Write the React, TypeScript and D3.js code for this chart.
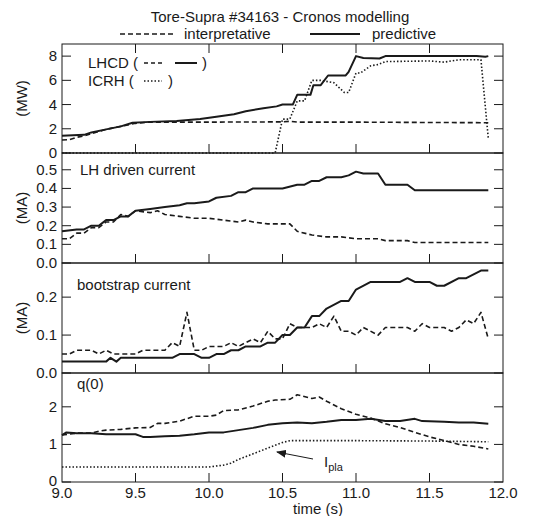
import React from "react";
import * as d3 from "d3";

const xTicks = [9.0, 9.5, 10.0, 10.5, 11.0, 11.5, 12.0];

// Panel 1 : power (MW)
const lhcdPredT = [9.0, 9.15, 9.2, 9.3, 9.4, 9.48, 9.6, 9.78, 9.94, 10.05, 10.17, 10.25, 10.37, 10.46, 10.5, 10.57, 10.6, 10.69, 10.71, 10.76, 10.81, 10.93, 10.95, 11.0, 11.05, 11.16, 11.2, 11.5, 11.82, 11.88, 11.9];
const lhcdPredV = [1.42, 1.5, 1.7, 1.95, 2.2, 2.5, 2.57, 2.65, 2.8, 3.0, 3.2, 3.45, 3.7, 3.85, 4.0, 4.0, 4.8, 4.8, 5.6, 5.6, 6.4, 6.4, 6.7, 8.0, 7.85, 7.8, 8.0, 8.0, 8.0, 7.95, 8.0];
const lhcdInterpT = [9.0, 9.05, 9.1, 9.15, 9.2, 9.3, 9.4, 9.5, 9.6, 10.0, 10.5, 10.55, 10.6, 11.0, 11.5, 11.9];
const lhcdInterpV = [1.07, 1.1, 1.3, 1.4, 1.6, 1.95, 2.2, 2.45, 2.55, 2.55, 2.57, 2.62, 2.55, 2.55, 2.52, 2.5];
const icrhT = [9.0, 10.45, 10.5, 10.55, 10.6, 10.65, 10.7, 10.76, 10.85, 10.92, 10.95, 11.0, 11.03, 11.1, 11.15, 11.2, 11.5, 11.6, 11.7, 11.85, 11.9];
const icrhV = [0, 0, 2.8, 2.8, 4.3, 4.3, 6.0, 6.0, 5.8, 5.0, 5.0, 6.6, 6.6, 7.2, 7.3, 7.55, 7.6, 7.5, 7.7, 7.7, 1.2];

// Panel 2 : LH driven current (MA)
const lhPredT = [9.0, 9.1, 9.15, 9.2, 9.25, 9.3, 9.35, 9.4, 9.45, 9.5, 9.6, 9.7, 9.8, 9.85, 9.9, 10.0, 10.05, 10.15, 10.2, 10.25, 10.3, 10.5, 10.6, 10.65, 10.7, 10.75, 10.8, 10.9, 10.95, 11.0, 11.05, 11.15, 11.2, 11.35, 11.4, 11.9];
const lhPredV = [0.17, 0.18, 0.18, 0.2, 0.2, 0.23, 0.23, 0.25, 0.25, 0.28, 0.29, 0.3, 0.31, 0.32, 0.32, 0.33, 0.35, 0.36, 0.38, 0.38, 0.4, 0.4, 0.42, 0.42, 0.44, 0.44, 0.46, 0.46, 0.47, 0.49, 0.48, 0.48, 0.42, 0.42, 0.39, 0.39];
const lhInterpT = [9.0, 9.05, 9.1, 9.15, 9.2, 9.25, 9.3, 9.35, 9.4, 9.45, 9.5, 9.6, 9.65, 9.7, 9.8, 9.9, 10.0, 10.1, 10.2, 10.25, 10.3, 10.4, 10.55, 10.6, 10.7, 10.8, 10.9, 11.0, 11.15, 11.2, 11.35, 11.4, 11.9];
const lhInterpV = [0.13, 0.13, 0.16, 0.16, 0.19, 0.19, 0.22, 0.22, 0.26, 0.25, 0.28, 0.27, 0.28, 0.26, 0.25, 0.24, 0.24, 0.23, 0.22, 0.23, 0.22, 0.21, 0.21, 0.17, 0.15, 0.14, 0.14, 0.13, 0.13, 0.12, 0.12, 0.11, 0.11];

// Panel 3 : bootstrap current (MA)
const bsPredT = [9.0, 9.3, 9.33, 9.37, 9.4, 9.75, 9.8, 9.9, 9.95, 10.0, 10.05, 10.1, 10.15, 10.2, 10.25, 10.35, 10.4, 10.45, 10.5, 10.55, 10.6, 10.65, 10.7, 10.75, 10.8, 10.9, 10.95, 11.0, 11.1, 11.3, 11.35, 11.4, 11.5, 11.55, 11.6, 11.7, 11.75, 11.85, 11.9];
const bsPredV = [0.03, 0.03, 0.04, 0.03, 0.04, 0.04, 0.05, 0.05, 0.04, 0.04, 0.05, 0.05, 0.06, 0.06, 0.07, 0.07, 0.08, 0.08, 0.1, 0.1, 0.12, 0.12, 0.15, 0.15, 0.17, 0.19, 0.19, 0.22, 0.24, 0.24, 0.25, 0.24, 0.24, 0.23, 0.23, 0.25, 0.25, 0.27, 0.27];
const bsInterpT = [9.0, 9.05, 9.1, 9.2, 9.25, 9.3, 9.35, 9.5, 9.55, 9.7, 9.75, 9.8, 9.85, 9.9, 9.95, 10.0, 10.1, 10.15, 10.2, 10.3, 10.35, 10.4, 10.45, 10.5, 10.55, 10.6, 10.7, 10.75, 10.8, 10.85, 10.9, 10.95, 11.0, 11.05, 11.15, 11.2, 11.35, 11.4, 11.45, 11.5, 11.6, 11.65, 11.7, 11.75, 11.8, 11.85, 11.9];
const bsInterpV = [0.05, 0.05, 0.06, 0.06, 0.05, 0.06, 0.05, 0.05, 0.06, 0.06, 0.08, 0.07, 0.16, 0.06, 0.06, 0.07, 0.07, 0.08, 0.07, 0.09, 0.08, 0.11, 0.09, 0.09, 0.13, 0.12, 0.12, 0.13, 0.12, 0.15, 0.11, 0.11, 0.1, 0.12, 0.1, 0.12, 0.12, 0.11, 0.13, 0.12, 0.12, 0.11, 0.12, 0.14, 0.13, 0.16, 0.09];

// Panel 4 : q(0)
const qPredT = [9.0, 9.03, 9.1, 9.2, 9.3, 9.5, 9.55, 9.6, 9.7, 9.8, 9.9, 10.0, 10.1, 10.2, 10.3, 10.4, 10.5, 10.6, 10.7, 10.8, 10.9, 11.0, 11.1, 11.2, 11.3, 11.4, 11.45, 11.6, 11.7, 11.8, 11.9];
const qPredV = [1.25, 1.32, 1.3, 1.3, 1.27, 1.27, 1.2, 1.2, 1.22, 1.23, 1.27, 1.32, 1.32, 1.38, 1.44, 1.52, 1.56, 1.58, 1.56, 1.6, 1.65, 1.65, 1.68, 1.62, 1.62, 1.68, 1.62, 1.6, 1.58, 1.58, 1.55];
const qInterpT = [9.0, 9.1, 9.2, 9.25, 9.3, 9.4, 9.5, 9.6, 9.65, 9.7, 9.8, 9.9, 10.0, 10.05, 10.1, 10.2, 10.3, 10.4, 10.45, 10.55, 10.6, 10.7, 10.75, 10.8, 10.9, 11.0, 11.1, 11.2, 11.3, 11.4, 11.5, 11.6, 11.7, 11.8, 11.9];
const qInterpV = [1.25, 1.3, 1.3, 1.35, 1.38, 1.4, 1.44, 1.45, 1.56, 1.56, 1.62, 1.75, 1.75, 1.78, 1.9, 1.92, 2.02, 2.15, 2.18, 2.2, 2.32, 2.22, 2.26, 2.15, 1.95, 1.8, 1.7, 1.55, 1.45, 1.32, 1.2, 1.1, 1.0, 0.95, 0.88];
const iplaT = [9.0, 10.0, 10.1, 10.15, 10.2, 10.3, 10.4, 10.5, 10.55, 11.0, 11.5, 11.9];
const iplaV = [0.4, 0.4, 0.45, 0.5, 0.6, 0.75, 0.9, 1.05, 1.1, 1.1, 1.09, 1.07];

const yTicks1 = [0, 2, 4, 6, 8];
const yTicks2 = [0.0, 0.1, 0.2, 0.3, 0.4, 0.5];
const yTicks3 = [0.0, 0.1, 0.2];
const yTicks4 = [0, 1, 2];

const FONT = "'Liberation Sans', Arial, sans-serif";
const INK = "#1a1a1a";
const FS = 15;

const left = 62;
const right = 503;
const x = d3.scaleLinear().domain([9, 12]).range([left, right]);

type Series = { t: number[]; v: number[]; style: "solid" | "dashed" | "dotted" };

const panels = [
  { top: 44, bottom: 153, domain: [0, 9], ticks: yTicks1, fmt: d3.format("d"), unit: "(MW)", topTicks: true,
    series: [
      { t: lhcdInterpT, v: lhcdInterpV, style: "dashed" },
      { t: icrhT, v: icrhV, style: "dotted" },
      { t: lhcdPredT, v: lhcdPredV, style: "solid" },
    ] as Series[] },
  { top: 153, bottom: 263, domain: [0, 0.59], ticks: yTicks2, fmt: d3.format(".1f"), unit: "(MA)", topTicks: false,
    series: [
      { t: lhInterpT, v: lhInterpV, style: "dashed" },
      { t: lhPredT, v: lhPredV, style: "solid" },
    ] as Series[] },
  { top: 263, bottom: 373, domain: [0, 0.29], ticks: yTicks3, fmt: d3.format(".1f"), unit: "(MA)", topTicks: false,
    series: [
      { t: bsInterpT, v: bsInterpV, style: "dashed" },
      { t: bsPredT, v: bsPredV, style: "solid" },
    ] as Series[] },
  { top: 373, bottom: 482, domain: [0, 2.9], ticks: yTicks4, fmt: d3.format("d"), unit: "", topTicks: false,
    series: [
      { t: iplaT, v: iplaV, style: "dotted" },
      { t: qInterpT, v: qInterpV, style: "dashed" },
      { t: qPredT, v: qPredV, style: "solid" },
    ] as Series[] },
];

const styleProps = (s: string) =>
  s === "solid"
    ? { strokeWidth: 2 }
    : s === "dashed"
    ? { strokeWidth: 1.6, strokeDasharray: "5,3" }
    : { strokeWidth: 1.6, strokeDasharray: "1.5,2" };

export default function App() {
  const TL = 9;
  return (
    <svg width={533} height={516} style={{ position: "absolute", left: 0, top: 0 }} fontFamily={FONT}>
      <rect width={533} height={516} fill="#fff" />
      <defs>
        <marker id="arr" markerWidth="10" markerHeight="8" refX="9" refY="4" orient="auto" markerUnits="userSpaceOnUse">
          <path d="M0,0 L10,4 L0,8 Z" fill={INK} />
        </marker>
      </defs>
      {/* title and legend */}
      <text x={280} y={22} textAnchor="middle" fontSize={FS} fill={INK}>Tore-Supra #34163 - Cronos modelling</text>
      <line x1={120} x2={175} y1={34} y2={34} stroke={INK} {...styleProps("dashed")} />
      <text x={184} y={39} fontSize={FS} fill={INK}>interpretative</text>
      <line x1={310} x2={360} y1={34} y2={34} stroke={INK} {...styleProps("solid")} />
      <text x={372} y={39} fontSize={FS} fill={INK}>predictive</text>

      {panels.map((p, i) => {
        const y = d3.scaleLinear().domain(p.domain).range([p.bottom, p.top]);
        return (
          <g key={i}>
            {p.series.map((s, j) => {
              const pts: [number, number][] = s.t.map((t, k) => [x(t), y(s.v[k])]);
              const path = d3.line()(pts) || "";
              return <path key={j} d={path} fill="none" stroke={INK} strokeLinejoin="round" {...styleProps(s.style)} />;
            })}
            <rect x={left} y={p.top} width={right - left} height={p.bottom - p.top} fill="none" stroke={INK} strokeWidth={1} />
            {p.ticks.map((tv) => (
              <g key={"y" + tv}>
                <line x1={left} x2={left + TL} y1={y(tv)} y2={y(tv)} stroke={INK} />
                <line x1={right - TL} x2={right} y1={y(tv)} y2={y(tv)} stroke={INK} />
                <text x={57} y={y(tv) + (i === 3 && tv === 0 ? 4 : 5)} textAnchor="end" fontSize={FS} fill={INK}>{p.fmt(tv)}</text>
              </g>
            ))}
            {xTicks.slice(1, -1).map((tv) => (
              <g key={"x" + tv}>
                <line x1={x(tv)} x2={x(tv)} y1={p.bottom} y2={p.bottom - TL} stroke={INK} />
                {p.topTicks && <line x1={x(tv)} x2={x(tv)} y1={p.top} y2={p.top + TL} stroke={INK} />}
              </g>
            ))}
            {p.unit && (
              <text transform={`translate(27,${(p.top + p.bottom) / 2}) rotate(-90)`} textAnchor="middle" fontSize={FS} fill={INK}>{p.unit}</text>
            )}
          </g>
        );
      })}

      {/* in-panel labels */}
      <text x={88} y={68} fontSize={FS} fill={INK}>LHCD (</text>
      <line x1={144} x2={162} y1={63} y2={63} stroke={INK} strokeWidth={1.6} strokeDasharray="4,3" />
      <line x1={175} x2={197} y1={63} y2={63} stroke={INK} {...styleProps("solid")} />
      <text x={202} y={68} fontSize={FS} fill={INK}>)</text>
      <text x={88} y={86} fontSize={FS} fill={INK}>ICRH  (</text>
      <line x1={144} x2={162} y1={81} y2={81} stroke={INK} {...styleProps("dotted")} />
      <text x={168} y={86} fontSize={FS} fill={INK}>)</text>

      <text x={80} y={175} fontSize={FS} fill={INK}>LH driven current</text>
      <text x={77} y={290} fontSize={FS} fill={INK}>bootstrap current</text>
      <text x={77} y={389} fontSize={FS} fill={INK}>q(0)</text>

      <line x1={313} y1={459} x2={277} y2={452} stroke={INK} strokeWidth={1} markerEnd="url(#arr)" />
      <text x={324} y={467} fontSize={FS} fill={INK}>I<tspan fontSize={11} dy={4}>pla</tspan></text>

      {xTicks.map((tv) => (
        <text key={"xl" + tv} x={x(tv)} y={498} textAnchor="middle" fontSize={FS} fill={INK}>{d3.format(".1f")(tv)}</text>
      ))}
      <text x={318} y={514} textAnchor="middle" fontSize={FS} fill={INK}>time (s)</text>
    </svg>
  );
}
